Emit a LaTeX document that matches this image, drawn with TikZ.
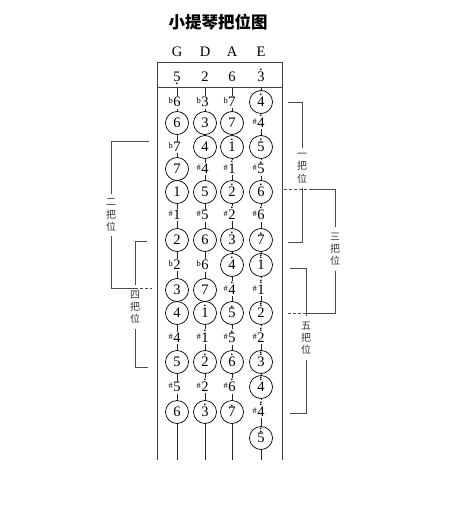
\documentclass[tikz,border=0pt]{standalone}
\usepackage{fontspec}
\setmainfont{Liberation Serif}
\newfontfamily\cjk{Noto Sans CJK SC}
% octave dots and accidentals
\newcommand{\hi}[1]{\vbox{\offinterlineskip\halign{\hfil##\hfil\cr.\cr\noalign{\kern1.2pt}#1\cr}}}
\newcommand{\hhi}[1]{\vbox{\offinterlineskip\halign{\hfil##\hfil\cr.\cr\noalign{\kern0.9pt}.\cr\noalign{\kern1.2pt}#1\cr}}}
\newcommand{\lo}[1]{\vtop{\offinterlineskip\halign{\hfil##\hfil\cr#1\cr\noalign{\kern1.2pt}.\cr}}}
\newcommand{\sh}{\llap{\raisebox{3.4pt}{\fontsize{8.5}{8.5}\selectfont\#}\kern0.4pt}}
\newcommand{\fl}{\llap{\raisebox{3.2pt}{\fontsize{8.5}{8.5}\selectfont b}\kern0.4pt}}
\usetikzlibrary{positioning}
\begin{document}
\begin{tikzpicture}[x=1pt,y=-1pt,font=\fontsize{14.5}{16}\selectfont,
  tone/.style={circle,draw,fill=white,line width=0.7pt,minimum size=23pt,inner sep=0pt,text height=9.8pt,text depth=0pt},
  acc/.style={fill=white,inner xsep=1pt,inner ysep=1.5pt,anchor=base,yshift=-4.9pt},
  head/.style={inner sep=1pt,anchor=base,yshift=-4.9pt},
  posbox/.style={font=\cjk\fontsize{10}{12.3}\selectfont,align=center,text=black!80,inner sep=5pt},
  brk/.style={draw=black!70,line width=0.8pt},
  frame/.style={draw=black!75,line width=1pt},
  string/.style={draw=black!85,line width=0.7pt}]
\useasboundingbox (0,0) rectangle (450,513);
\node[font=\cjk\bfseries\fontsize{16.5}{18}\selectfont] (title) at (218,22) {小提琴把位图};
\node[head] (sg) at (177,52) {G};
\node[head] (sd) at (205,52) {D};
\node[head] (sa) at (232,52) {A};
\node[head] (se) at (261,52) {E};
% frame
\draw[frame] (157,460) -- (157,63) -- (282,63) -- (282,460);
\draw[frame] (157,88) -- (282,88);
\node[head] (h1) at (177,77) {\lo{5}};
\node[head] (h2) at (205,77) {2};
\node[head] (h3) at (232,77) {6};
\node[head] (h4) at (261,77) {\hi{3}};
% strings
\coordinate (gt) at (177,88); \coordinate (gb) at (177,460);
\coordinate (dt) at (205,88); \coordinate (db) at (205,460);
\coordinate (at) at (232,88); \coordinate (ab) at (232,460);
\coordinate (et) at (261,88); \coordinate (eb) at (261,460);
\draw[string] (gt) -- (gb);
\draw[string] (dt) -- (db);
\draw[string] (at) -- (ab);
\draw[string] (et) -- (eb);
% G string
\node[acc] (g1) at (177,102) {\fl 6};
\node[tone] (g2) at (177,123) {6};
\node[acc] (g3) at (177,147) {\fl 7};
\node[tone] (g4) at (177,169) {7};
\node[tone] (g5) at (177,192) {1};
\node[acc] (g6) at (177,215) {\sh 1};
\node[tone] (g7) at (177,240) {2};
\node[acc] (g8) at (177,265) {\fl 2};
\node[tone] (g9) at (177,290) {3};
\node[tone] (g10) at (177,313) {4};
\node[acc] (g11) at (177,338) {\sh 4};
\node[tone] (g12) at (177,362) {5};
\node[acc] (g13) at (177,387) {\sh 5};
\node[tone] (g14) at (177,412) {6};
% D string
\node[acc] (d1) at (205,102) {\fl 3};
\node[tone] (d2) at (205,123) {3};
\node[tone] (d3) at (205,147) {4};
\node[acc] (d4) at (205,169) {\sh 4};
\node[tone] (d5) at (205,192) {5};
\node[acc] (d6) at (205,215) {\sh 5};
\node[tone] (d7) at (205,240) {6};
\node[acc] (d8) at (205,265) {\fl 6};
\node[tone] (d9) at (205,290) {7};
\node[tone] (d10) at (205,313) {\hi{1}};
\node[acc] (d11) at (205,338) {\sh\hi{1}};
\node[tone] (d12) at (205,362) {\hi{2}};
\node[acc] (d13) at (205,387) {\sh\hi{2}};
\node[tone] (d14) at (205,412) {\hi{3}};
% A string
\node[acc] (a1) at (232,102) {\fl 7};
\node[tone] (a2) at (232,123) {7};
\node[tone] (a3) at (232,147) {\hi{1}};
\node[acc] (a4) at (232,169) {\sh\hi{1}};
\node[tone] (a5) at (232,192) {\hi{2}};
\node[acc] (a6) at (232,215) {\sh\hi{2}};
\node[tone] (a7) at (232,240) {\hi{3}};
\node[tone] (a8) at (232,265) {\hi{4}};
\node[acc] (a9) at (232,290) {\sh\hi{4}};
\node[tone] (a10) at (232,313) {\hi{5}};
\node[acc] (a11) at (232,338) {\sh\hi{5}};
\node[tone] (a12) at (232,362) {\hi{6}};
\node[acc] (a13) at (232,387) {\sh\hi{6}};
\node[tone] (a14) at (232,412) {\hi{7}};
% E string
\node[tone] (e1) at (261,102) {\hi{4}};
\node[acc] (e2) at (261,123) {\sh\hi{4}};
\node[tone] (e3) at (261,147) {\hi{5}};
\node[acc] (e4) at (261,169) {\sh\hi{5}};
\node[tone] (e5) at (261,192) {\hi{6}};
\node[acc] (e6) at (261,215) {\sh\hi{6}};
\node[tone] (e7) at (261,240) {\hi{7}};
\node[tone] (e8) at (261,265) {\hhi{1}};
\node[acc] (e9) at (261,290) {\sh\hhi{1}};
\node[tone] (e10) at (261,313) {\hhi{2}};
\node[acc] (e11) at (261,338) {\sh\hhi{2}};
\node[tone] (e12) at (261,362) {\hhi{3}};
\node[tone] (e13) at (261,387) {\hhi{4}};
\node[acc] (e14) at (261,412) {\sh\hhi{4}};
\node[tone] (e15) at (261,438) {\hhi{5}};
% positions
\node[posbox] (p1) at (302,168) {一\\把\\位};
\node[posbox] (p2) at (111,215) {二\\把\\位};
\node[posbox] (p3) at (335,249) {三\\把\\位};
\node[posbox] (p4) at (135,307) {四\\把\\位};
\node[posbox] (p5) at (306,338) {五\\把\\位};
\coordinate (p1t) at (288,102); \coordinate (p1b) at (288,242);
\coordinate (p2t) at (149,141); \coordinate (p2b) at (135,288); \coordinate (p2e) at (152,288);
\coordinate (p3t) at (312,189); \coordinate (p3e) at (283,189);
\coordinate (p3b) at (306,313); \coordinate (p3f) at (287,313);
\coordinate (p4t) at (147,241); \coordinate (p4b) at (148,367);
\coordinate (p5t) at (290,268); \coordinate (p5b) at (290,413);
\draw[brk] (p1) |- (p1t);
\draw[brk] (p1) |- (p1b);
\draw[brk] (p2) |- (p2t);
\draw[brk] (p2) |- (p2b);
\draw[brk,dash pattern=on 3pt off 2pt] (p2b) -- (p2e);
\draw[brk] (p3) |- (p3t);
\draw[brk,dash pattern=on 3pt off 2pt] (p3t) -- (p3e);
\draw[brk] (p3) |- (p3b);
\draw[brk,dash pattern=on 3pt off 2pt] (p3b) -- (p3f);
\draw[brk] (p4) |- (p4t);
\draw[brk] (p4) |- (p4b);
\draw[brk] (p5) |- (p5t);
\draw[brk] (p5) |- (p5b);
\end{tikzpicture}
\end{document}
